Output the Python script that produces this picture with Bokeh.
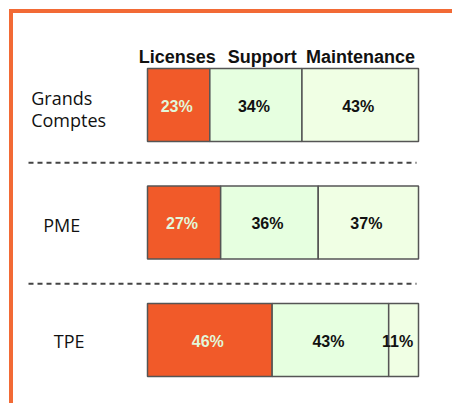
from bokeh.plotting import figure
from bokeh.models import ColumnDataSource, Range1d
from bokeh.core.properties import value
from bokeh.embed import file_html
from bokeh.resources import INLINE

# ---- data ----
segments = ["Licenses", "Support", "Maintenance"]
companies = ["Grands Comptes", "PME", "TPE"]
licenses = [23, 27, 46]
support = [34, 36, 43]
maintenance = [43, 37, 11]

# ---- styles ----
fills = ["#f15a29", "#e6ffe0", "#f0ffe4"]
label_colors = ["#e2f7da", "#111111", "#111111"]
ORANGE_FRAME = "#f26a35"

W, H = 452, 403
PX_PER_PCT = 2.71
X0 = 147          # screen x of 0 %
ROW0, ROW_STEP = 104.5, 117.5   # screen y of first row, row spacing


def sx(px):
    return (px - X0) / PX_PER_PCT


def sy(py):
    return (py - ROW0) / ROW_STEP


p = figure(width=W, height=H, output_backend="svg", toolbar_location=None,
           x_range=Range1d(sx(0), sx(W)), y_range=Range1d(sy(H), sy(0)),
           min_border=0)
p.axis.visible = False
p.grid.visible = False
p.outline_line_color = None
p.background_fill_color = "white"
p.border_fill_color = "white"

rows = list(range(len(companies)))
series = [licenses, support, maintenance]
left = [0] * len(companies)
bar_h = 73 / ROW_STEP
for i, (name, vals) in enumerate(zip(segments, series)):
    right = [l + v for l, v in zip(left, vals)]
    centers = [l + v / 2 for l, v in zip(left, vals)]
    offs = [-2 if v * PX_PER_PCT > 36 else -6 for v in vals]
    src = ColumnDataSource(dict(y=rows, left=left, right=right, x=centers,
                                txt=[f"{v}%" for v in vals], off=offs))
    p.hbar(y="y", left="left", right="right", height=bar_h, source=src,
           fill_color=fills[i], line_color="#555555", line_width=1.5)
    p.text(x="x", y="y", text="txt", source=src, x_offset="off", y_offset=1,
           text_align="center", text_baseline="middle",
           text_font=value("Liberation Sans"), text_font_style="bold",
           text_font_size="16px", text_color=label_colors[i])
    left = right

# column headers
hdr_x = [11.0, 42.3, 78.6]
p.text(x=hdr_x, y=[sy(56)] * 3, text=segments, text_align="center",
       text_baseline="alphabetic", text_font=value("Liberation Sans"),
       text_font_style="bold", text_font_size="18px", text_color="#111111")

# row labels
lab_txt = ["Grands", "Comptes", companies[1], companies[2]]
lab_x = [sx(30.7), sx(30.7), sx(42.7), sx(53.3)]
lab_y = [sy(97), sy(119), sy(224), sy(340.5)]
p.text(x=lab_x, y=lab_y, text=lab_txt, text_align="left",
       text_baseline="alphabetic", text_font=value("Open Sans"),
       text_font_size="18px", text_color="#111111")

# dashed separators
for yy in [sy(162.3), sy(283.3)]:
    p.line(x=[sx(28), sx(416)], y=[yy, yy], line_color="#444444",
           line_width=2, line_dash="5 4")

# orange frame (top & left), starting at the corner
p.line(x=[sx(8.5), sx(W)], y=[sy(10.5), sy(10.5)],
       line_color=ORANGE_FRAME, line_width=4)
p.line(x=[sx(10.5), sx(10.5)], y=[sy(8.5), sy(H)],
       line_color=ORANGE_FRAME, line_width=4)

open("out.html", "w").write(file_html(p, INLINE))
